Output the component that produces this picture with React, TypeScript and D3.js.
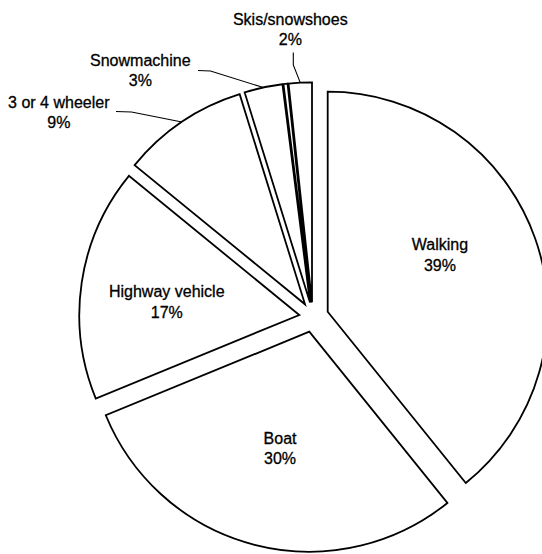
import React from "react";
import * as d3 from "d3";

// ---- data ----
const categories = [
  "Walking",
  "Boat",
  "Highway vehicle",
  "3 or 4 wheeler",
  "Snowmachine",
  "",
  "Skis/snowshoes",
];
const values = [39.2, 29.6, 17.1, 9.3, 2.8, 0.3, 1.7];
const percentLabels = ["39%", "30%", "17%", "9%", "3%", "", "2%"];

// ---- layout / style ----
const W = 542;
const H = 554;
const CX = 312;
const CY = 302.3;
const RADIUS = 220;
// exploded offset of each slice from the common centre
const explodeOffsets: [number, number][] = [
  [15.7, 9.4],
  [-2.7, 29.4],
  [-12.7, 12.7],
  [-7, 2],
  [-2, 0.2],
  [-1, 0],
  [0, 0],
];
// inside labels: [radius, angle in degrees] from the slice apex
const insideLabelPolar: Record<number, [number, number]> = {
  0: [125.9, 63.1],
  1: [120.1, 194.1],
  2: [133.2, 275.7],
};
// outside labels: text centre x, first baseline y, and leader elbow points
const outsideLabels: Record<
  number,
  { x: number; y: number; leader: [number, number][] }
> = {
  3: { x: 58.8, y: 107.5, leader: [[116, 111.5], [131.5, 112]] },
  4: { x: 140.3, y: 65.5, leader: [[198, 70.5], [210.5, 71]] },
  6: { x: 290.3, y: 24.5, leader: [[293.3, 52.5], [293.3, 65]] },
};
const LINE_GAP = 20.5;
const FONT = "'Liberation Sans', Arial, Helvetica, sans-serif";

export default function App() {
  const pie = d3
    .pie<number>()
    .value((d) => d)
    .sort(null)
    .startAngle(0)
    .endAngle(2 * Math.PI);
  const arcs = pie(values);
  const arcGen = d3
    .arc<d3.PieArcDatum<number>>()
    .innerRadius(0)
    .outerRadius(RADIUS);

  const textProps = {
    textAnchor: "middle" as const,
    fontFamily: FONT,
    fontSize: 16,
    fill: "#000",
    stroke: "#000",
    strokeWidth: 0.3,
  };

  return (
    <svg
      width={W}
      height={H}
      viewBox={`0 0 ${W} ${H}`}
      style={{ position: "absolute", left: 0, top: 0, background: "#fff" }}
    >
      <rect x={0} y={0} width={W} height={H} fill="#fff" />
      {arcs.map((a, i) => {
        const [ox, oy] = explodeOffsets[i];
        return (
          <path
            key={"s" + i}
            d={arcGen(a) || ""}
            transform={`translate(${CX + ox},${CY + oy})`}
            fill="#fff"
            stroke="#000"
            strokeWidth={1.8}
            strokeLinejoin="miter"
          />
        );
      })}
      {arcs.map((a, i) => {
        const [ox, oy] = explodeOffsets[i];
        const ax = CX + ox;
        const ay = CY + oy;
        if (insideLabelPolar[i]) {
          const [r, deg] = insideLabelPolar[i];
          const t = (deg * Math.PI) / 180;
          const x = ax + Math.sin(t) * r;
          const y = ay - Math.cos(t) * r;
          return (
            <text key={"l" + i} {...textProps}>
              <tspan x={x} y={y - LINE_GAP / 2 + 5.7}>
                {categories[i]}
              </tspan>
              <tspan x={x} y={y + LINE_GAP / 2 + 5.7}>
                {percentLabels[i]}
              </tspan>
            </text>
          );
        }
        const ol = outsideLabels[i];
        if (!ol) return null;
        const mid = (a.startAngle + a.endAngle) / 2;
        const ex = ax + Math.sin(mid) * RADIUS;
        const ey = ay - Math.cos(mid) * RADIUS;
        const pts = [...ol.leader, [ex, ey]] as [number, number][];
        return (
          <g key={"l" + i}>
            <path
              d={d3.line()(pts) || ""}
              fill="none"
              stroke="#000"
              strokeWidth={1.1}
            />
            <text {...textProps}>
              <tspan x={ol.x} y={ol.y}>
                {categories[i]}
              </tspan>
              <tspan x={ol.x} y={ol.y + LINE_GAP}>
                {percentLabels[i]}
              </tspan>
            </text>
          </g>
        );
      })}
    </svg>
  );
}
